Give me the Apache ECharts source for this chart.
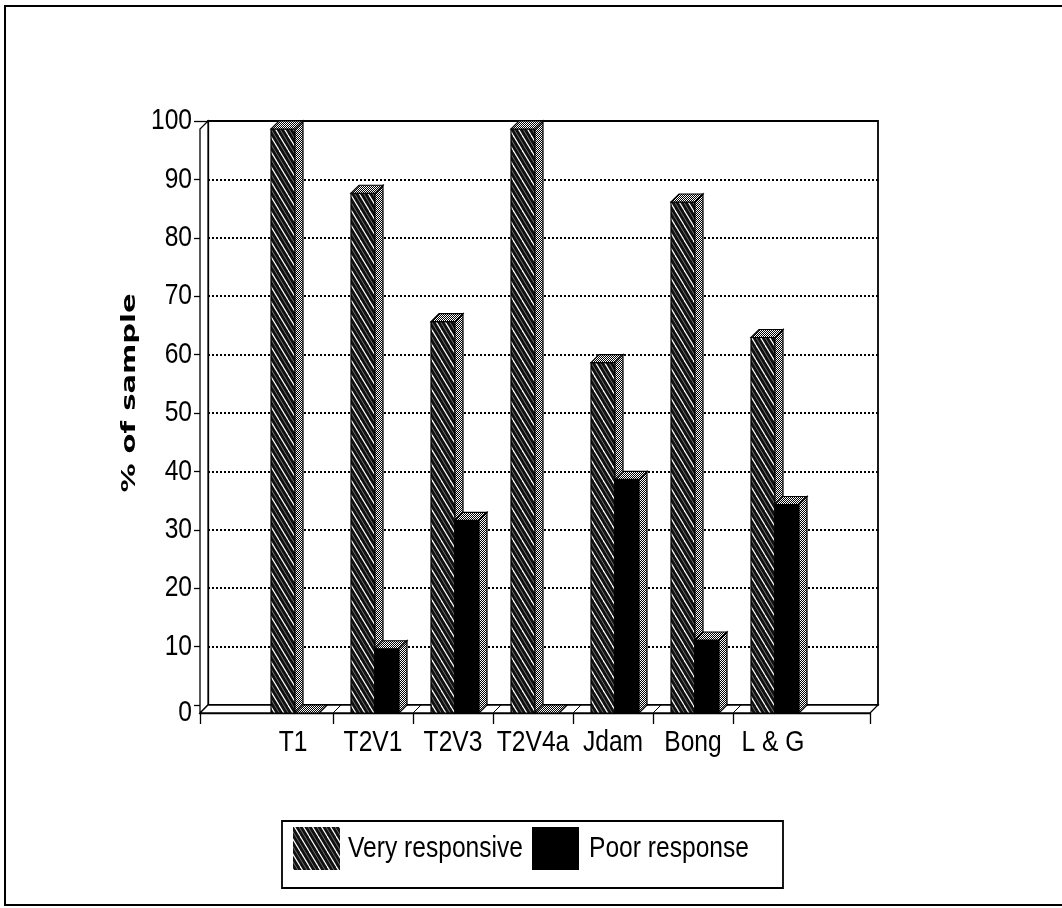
<!DOCTYPE html>
<html>
<head>
<meta charset="utf-8">
<script src="https://cdn.jsdelivr.net/npm/echarts@6/dist/echarts.min.js"></script>
<style>
  html, body { margin: 0; padding: 0; background: #fff; overflow: hidden; }
  #chart { width: 1062px; height: 908px; }
</style>
</head>
<body>
<div id="chart"></div>
<script>
// Survey response by site: share of sample (%)
const categories = ['T1', 'T2V1', 'T2V3', 'T2V4a', 'Jdam', 'Bong', 'L & G'];
const veryResponsive = [100, 89, 67, 100, 60, 87.5, 64.3];
const poorResponse = [0, 11, 33, 0, 40, 12.5, 35.7];
const seriesNames = ['Very responsive', 'Poor response'];
const yTickValues = [0, 10, 20, 30, 40, 50, 60, 70, 80, 90, 100];

// Category i sits at i + 0.5; separators sit on the whole numbers between them.
const catCenters = categories.map((_, i) => i + 0.5);
const separators = [1, 2, 3, 4, 5, 6];
const X_MIN = -0.6625;
const X_MAX = 7.7125;

const DEPTH = 8;        // 3D offset of the back plane, px
const SHIFT = 2;        // bar pair offset from the category centre, px
const LABEL_FONT = '30px "Liberation Sans", Arial, sans-serif';
const NARROW_SCALE = 0.82;   // condensed lettering

function hatchCanvas() {
  const c = document.createElement('canvas');
  c.width = 9; c.height = 15;
  const g = c.getContext('2d');
  g.fillStyle = '#101010';
  g.fillRect(0, 0, 9, 15);
  g.strokeStyle = '#6e6e6e';
  g.lineWidth = 1;
  for (const o of [-9, 0, 9]) {
    g.beginPath(); g.moveTo(o + 4.5, 0); g.lineTo(o + 13.5, 15); g.stroke();
  }
  g.strokeStyle = '#ffffff';
  g.lineWidth = 1.2;
  for (const o of [-9, 0, 9]) {
    g.beginPath(); g.moveTo(o, 0); g.lineTo(o + 9, 15); g.stroke();
  }
  return c;
}

function stippleCanvas() {
  const c = document.createElement('canvas');
  c.width = 2; c.height = 2;
  const g = c.getContext('2d');
  g.fillStyle = '#000';
  g.fillRect(0, 0, 2, 2);
  g.fillStyle = '#fff';
  g.fillRect(0, 0, 1, 1);
  g.fillRect(1, 1, 1, 1);
  return c;
}

const hatchFill = { image: hatchCanvas(), repeat: 'repeat' };
const stippleFill = { image: stippleCanvas(), repeat: 'repeat' };
const solidFill = '#000';

function barRenderer(slot, frontFill) {
  return function (params, api) {
    const c = api.value(0);
    const v = api.value(1);
    const w = api.size([1, 0])[0] * 0.3;
    const top = api.coord([c, v]);
    const base = api.coord([c, 0]);
    const x0 = top[0] - w + SHIFT + slot * w;
    const x1 = x0 + w;
    const yT = top[1];
    const yB = base[1];
    const d = DEPTH;
    const edge = { stroke: '#000', lineWidth: 1.2 };
    return {
      type: 'group',
      children: [
        {
          type: 'rect',
          shape: { x: x0, y: yT, width: w, height: yB - yT },
          style: Object.assign({ fill: frontFill }, edge)
        },
        {
          type: 'polygon',
          shape: { points: [[x1, yB], [x1, yT], [x1 + d, yT - d], [x1 + d, yB - d]] },
          style: Object.assign({ fill: stippleFill }, edge)
        },
        {
          type: 'polygon',
          shape: { points: [[x0, yT], [x0 + d, yT - d], [x1 + d, yT - d], [x1, yT]] },
          style: Object.assign({ fill: stippleFill }, edge)
        }
      ]
    };
  };
}

// Floor slab, left wall and the floor marks under each separator
function frameRenderer(params, api) {
  const d = DEPTH;
  const a = api.coord([api.value(0), 0]);
  const b = api.coord([api.value(1), 0]);
  const aTop = api.coord([api.value(0), 100]);
  const children = [
    {
      type: 'polygon',
      shape: { points: [[a[0], a[1]], [aTop[0], aTop[1]], [aTop[0] + d, aTop[1] - d], [a[0] + d, a[1] - d]] },
      style: { fill: '#fff', stroke: '#000', lineWidth: 1.3 }
    },
    {
      type: 'polygon',
      shape: { points: [[a[0], a[1]], [b[0], b[1]], [b[0] + d, b[1] - d], [a[0] + d, a[1] - d]] },
      style: { fill: '#fff', stroke: '#000', lineWidth: 1.3 }
    }
  ];
  separators.forEach(s => {
    const p = api.coord([s, 0]);
    children.push({
      type: 'line',
      shape: { x1: p[0], y1: p[1], x2: p[0] + d, y2: p[1] - d },
      style: { stroke: '#000', lineWidth: 1 }
    });
  });
  return { type: 'group', children };
}

// Condensed tick labels; the zero label sits on the front edge of the floor
function yLabelRenderer(params, api) {
  const v = api.value(1);
  const p = api.coord([0, v]);
  return {
    type: 'text', x: p[0] - 16, y: p[1] + (v === 0 ? DEPTH : 0), scaleX: NARROW_SCALE,
    style: { text: String(v), font: LABEL_FONT, fill: '#000', align: 'right', verticalAlign: 'middle' }
  };
}

function xLabelRenderer(params, api) {
  const p = api.coord([api.value(0), 0]);
  return {
    type: 'text', x: p[0], y: p[1] + 15, scaleX: NARROW_SCALE,
    style: { text: categories[params.dataIndex], font: LABEL_FONT, fill: '#000', align: 'center', verticalAlign: 'top' }
  };
}

const chart = echarts.init(document.getElementById('chart'), null, { renderer: 'canvas' });

chart.setOption({
  animation: false,
  backgroundColor: '#fff',
  grid: [
    // back wall
    { left: 208, top: 121, width: 670, height: 584, show: true, borderColor: '#000', borderWidth: 1.8, backgroundColor: 'transparent' },
    // front plane
    { left: 200, top: 129, width: 670, height: 584 }
  ],
  xAxis: [
    { gridIndex: 0, type: 'value', min: 0, max: 1, show: false },
    {
      gridIndex: 1, type: 'value', min: X_MIN, max: X_MAX,
      axisLine: { show: true, onZero: false, lineStyle: { color: '#000', width: 1.3 } },
      axisTick: { show: true, customValues: [X_MIN].concat(separators, [X_MAX]), length: 11, lineStyle: { color: '#000', width: 1.3 } },
      axisLabel: { show: false },
      splitLine: { show: false }
    }
  ],
  yAxis: [
    {
      gridIndex: 0, type: 'value', min: 0, max: 100, interval: 10,
      axisLine: { show: true, onZero: false, lineStyle: { color: '#000', width: 1.3 } },
      axisTick: { show: true, length: 14, lineStyle: { color: '#000', width: 1.3 } },
      axisLabel: { show: false },
      splitLine: { show: true, lineStyle: { color: '#000', type: [2, 2], width: 2 } }
    },
    {
      gridIndex: 1, type: 'value', min: 0, max: 100,
      axisLine: { show: false, onZero: false },
      axisTick: { show: false },
      axisLabel: { show: false },
      splitLine: { show: false }
    }
  ],
  graphic: [
    {
      type: 'rect', z: -10, silent: true,
      shape: { x: 5, y: 6, width: 1100, height: 899 },
      style: { fill: 'none', stroke: '#000', lineWidth: 2 }
    },
    {
      type: 'text', x: 130, y: 393, rotation: Math.PI / 2, scaleX: 1.45,
      style: {
        text: '% of sample', fill: '#000',
        font: 'bold 20px "DejaVu Sans", sans-serif',
        align: 'center', verticalAlign: 'middle'
      }
    },
    {
      // legend
      type: 'group', x: 282, y: 821,
      children: [
        { type: 'rect', shape: { x: 0, y: 0, width: 501, height: 67 }, style: { fill: '#fff', stroke: '#000', lineWidth: 1.8 } },
        { type: 'rect', shape: { x: 11, y: 6, width: 47, height: 43 }, style: { fill: hatchFill } },
        {
          type: 'text', x: 66, y: 28, scaleX: NARROW_SCALE,
          style: { text: seriesNames[0], font: LABEL_FONT, fill: '#000', align: 'left', verticalAlign: 'middle' }
        },
        { type: 'rect', shape: { x: 250, y: 6, width: 47, height: 43 }, style: { fill: solidFill } },
        {
          type: 'text', x: 307, y: 28, scaleX: NARROW_SCALE,
          style: { text: seriesNames[1], font: LABEL_FONT, fill: '#000', align: 'left', verticalAlign: 'middle' }
        }
      ]
    }
  ],
  series: [
    {
      type: 'custom', name: 'frame', xAxisIndex: 1, yAxisIndex: 1, z: 1,
      silent: true, renderItem: frameRenderer,
      data: [[X_MIN, X_MAX]]
    },
    {
      type: 'custom', name: seriesNames[0], xAxisIndex: 1, yAxisIndex: 1, z: 3,
      renderItem: barRenderer(0, hatchFill),
      data: catCenters.map((c, i) => [c, veryResponsive[i]])
    },
    {
      type: 'custom', name: seriesNames[1], xAxisIndex: 1, yAxisIndex: 1, z: 4,
      renderItem: barRenderer(1, solidFill),
      data: catCenters.map((c, i) => [c, poorResponse[i]])
    },
    {
      type: 'custom', name: 'yLabels', xAxisIndex: 0, yAxisIndex: 0, z: 5,
      silent: true, renderItem: yLabelRenderer,
      data: yTickValues.map(v => [0, v])
    },
    {
      type: 'custom', name: 'xLabels', xAxisIndex: 1, yAxisIndex: 1, z: 5,
      silent: true, renderItem: xLabelRenderer,
      data: catCenters.map(c => [c, 0])
    }
  ]
});
</script>
</body>
</html>
